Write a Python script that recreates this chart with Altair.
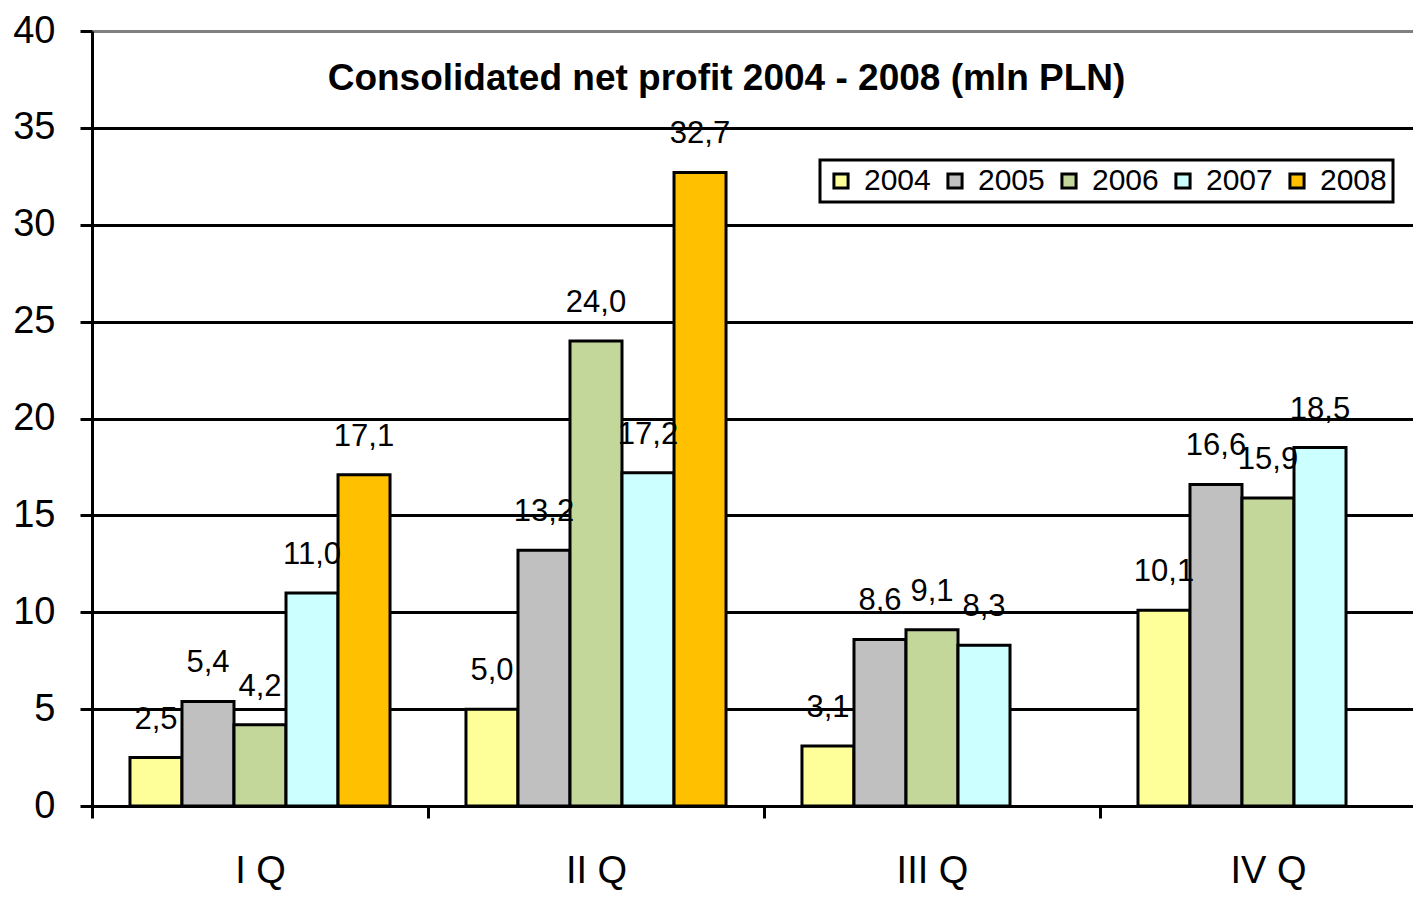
import altair as alt
import pandas as pd

quarters = ["I Q", "II Q", "III Q", "IV Q"]
years = ["2004", "2005", "2006", "2007", "2008"]
v2004 = [2.5, 5.0, 3.1, 10.1]
v2005 = [5.4, 13.2, 8.6, 16.6]
v2006 = [4.2, 24.0, 9.1, 15.9]
v2007 = [11.0, 17.2, 8.3, 18.5]
v2008 = [17.1, 32.7, None, None]
colors = ["#FFFF99", "#C0C0C0", "#C4D79B", "#CCFFFF", "#FFC000"]

series = [v2004, v2005, v2006, v2007, v2008]
rows = []
for y, vals in zip(years, series):
    for q, v in zip(quarters, vals):
        if v is not None:
            rows.append({"quarter": q, "year": y, "value": v,
                         "label": f"{v:.1f}".replace(".", ",")})
df = pd.DataFrame(rows)

FONT = "Liberation Sans, Arial, sans-serif"

x = alt.X("quarter:N", sort=quarters,
          scale=alt.Scale(paddingInner=0, paddingOuter=0, range=[0, 1344]),
          axis=alt.Axis(title=None, labelAngle=0, tickBand="extent",
                        tickSize=12, tickWidth=3, tickColor="black",
                        domainColor="black", domainWidth=3,
                        labelFont=FONT, labelFontSize=38, labelColor="black",
                        labelPadding=34, grid=False))
xo = alt.XOffset("year:N", sort=years,
                 scale=alt.Scale(paddingInner=0, paddingOuter=0.73))
y = alt.Y("value:Q", scale=alt.Scale(domain=[0, 40], nice=False),
          axis=alt.Axis(title=None, values=[0, 5, 10, 15, 20, 25, 30, 35, 40],
                        tickSize=12, tickWidth=3, tickColor="black",
                        domainColor="black", domainWidth=3,
                        gridColor={"condition": {"test": "datum.value === 40", "value": "#808080"}, "value": "black"},
                        gridWidth=3, gridOpacity=1,
                        labelFont=FONT, labelFontSize=38, labelColor="black",
                        labelPadding=25))

bars = alt.Chart(df).mark_bar(stroke="black", strokeWidth=3).encode(
    x=x, xOffset=xo, y=y,
    fill=alt.Fill("year:N", sort=years,
                  scale=alt.Scale(domain=years, range=colors),
                  legend=alt.Legend(title=None, orient="none", legendX=728, legendY=129,
                                    direction="horizontal", columns=5,
                                    symbolType="square", symbolSize=200,
                                    symbolStrokeColor="black", symbolStrokeWidth=3,
                                    labelFont=FONT, labelFontSize=30, labelColor="black",
                                    labelOffset=8, columnPadding=9,
                                    strokeColor="black",
                                    fillColor="white", padding=6, cornerRadius=0)),
)

labels = alt.Chart(df).mark_text(baseline="middle", dy=-38, font=FONT,
                                 fontSize=31, color="black").encode(
    x=x, xOffset=xo, y=y, text="label:N"
)

chart = (bars + labels).properties(
    width=1321, height=775,
    padding={"left": 84, "top": 23, "right": 0, "bottom": 84},
    autosize=alt.AutoSizeParams(type="none"),
    title=alt.TitleParams("Consolidated net profit 2004 - 2008 (mln PLN)",
                          font=FONT, fontSize=37, fontWeight="bold", color="black",
                          anchor="middle", frame="group", orient="top",
                          baseline="alphabetic", offset=0, dx=-26, dy=115),
).configure_view(stroke=None).configure(background="white").configure_legend(strokeWidth=3)

chart.save("out.html", embed_options={"renderer": "svg", "actions": False})
